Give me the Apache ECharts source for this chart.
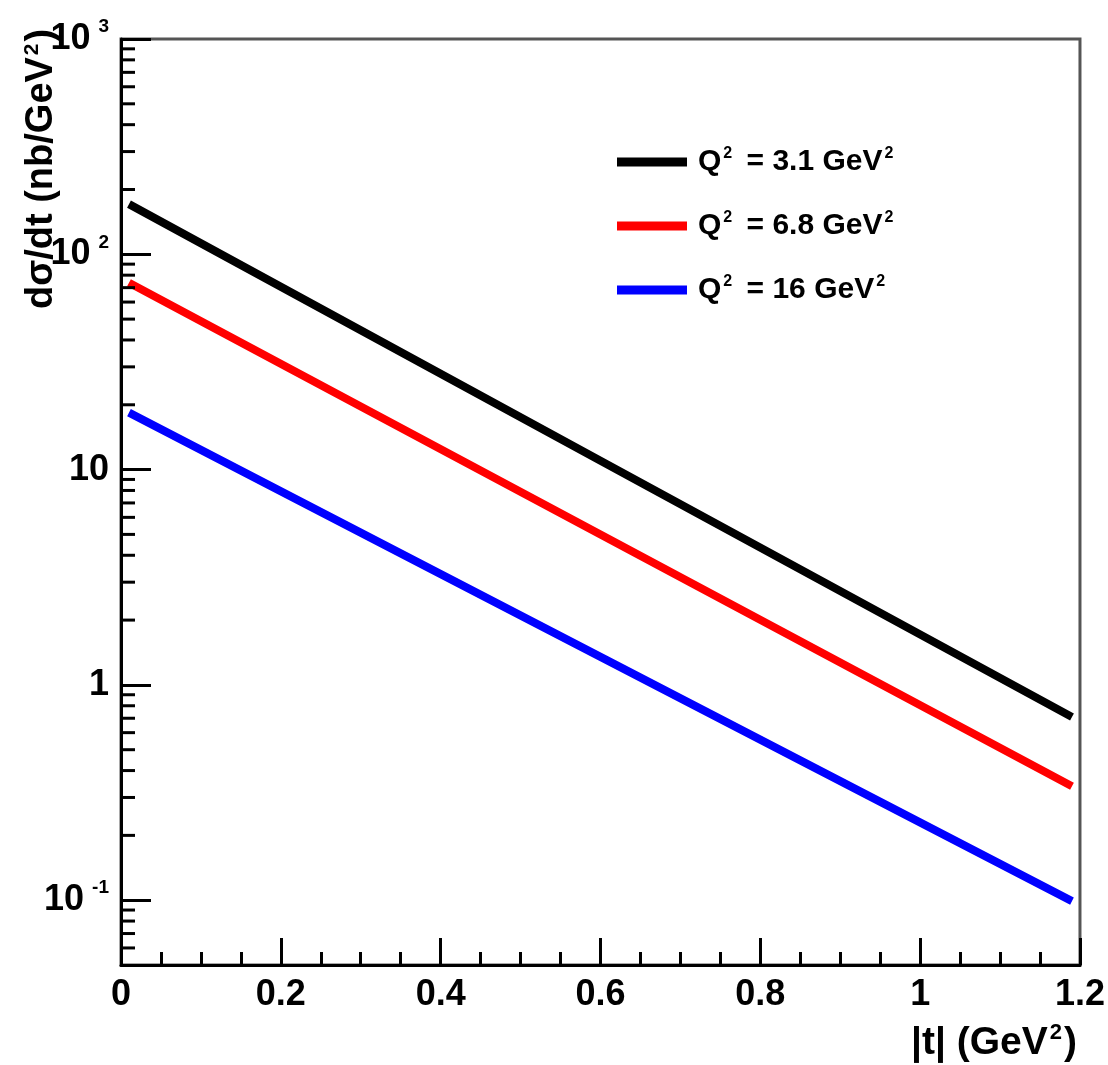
<!DOCTYPE html>
<html>
<head>
<meta charset="utf-8">
<script src="https://cdn.jsdelivr.net/npm/echarts@6/dist/echarts.min.js"></script>
<style>html,body{margin:0;padding:0;background:#fff;}#c{width:1108px;height:1065px;}</style>
</head>
<body>
<div id="c"></div>
<script>
// ---- data ----
var q2Values = ['3.1', '6.8', '16'];
var lineColors = ['#000000', '#ff0000', '#0000ff'];
var tValues = [0.01, 0.6, 1.19];
var sigmaQ31 = [171, 11.0, 0.71];
var sigmaQ68 = [73.8, 5.0, 0.338];
var sigmaQ16 = [18.4, 1.35, 0.099];
var xTicks = [0, 0.2, 0.4, 0.6, 0.8, 1, 1.2];
var yMajorTicks = [0.1, 1, 10, 100, 1000];
var yMinorTicks = [0.06, 0.07, 0.08, 0.09,
  0.2, 0.3, 0.4, 0.5, 0.6, 0.7, 0.8, 0.9,
  2, 3, 4, 5, 6, 7, 8, 9,
  20, 30, 40, 50, 60, 70, 80, 90,
  200, 300, 400, 500, 600, 700, 800, 900];

var FONT = '"Liberation Sans", Arial, Helvetica, sans-serif';
var allSeriesValues = [sigmaQ31, sigmaQ68, sigmaQ16];
function legendName(q) { return 'Q^2 = ' + q + ' GeV^2'; }

var series = allSeriesValues.map(function (vals, i) {
  return {
    type: 'line',
    name: legendName(q2Values[i]),
    data: tValues.map(function (t, j) { return [t, vals[j]]; }),
    showSymbol: false,
    symbol: 'none',
    lineStyle: { color: lineColors[i], width: 8, cap: 'butt' },
    itemStyle: { color: lineColors[i] },
    z: 3
  };
});

series.push({
  type: 'custom',
  name: 'minorTicks',
  silent: true,
  clip: false,
  z: 5,
  data: yMinorTicks.map(function (v) { return [0, v]; }),
  renderItem: function (params, api) {
    var p = api.coord([api.value(0), api.value(1)]);
    return {
      type: 'line',
      shape: { x1: p[0], y1: p[1], x2: p[0] + 14, y2: p[1] },
      style: { stroke: '#000', lineWidth: 3 }
    };
  }
});

var supRich = {
  b: { fontFamily: FONT, fontWeight: 'bold', fontSize: 36, color: '#000' },
  s: { fontFamily: FONT, fontWeight: 'bold', fontSize: 19, color: '#000', padding: [0, 0, 24, 8] }
};

var chart = echarts.init(document.getElementById('c'), null, { renderer: 'canvas' });
chart.setOption({
  backgroundColor: '#ffffff',
  animation: false,
  grid: {
    left: 121, right: 26, top: 39, bottom: 100,
    show: true, borderColor: '#555', borderWidth: 3, backgroundColor: 'transparent'
  },
  legend: {
    left: 612, top: 141,
    orient: 'vertical',
    icon: 'rect',
    itemWidth: 70, itemHeight: 9,
    itemGap: 32,
    data: q2Values.map(legendName),
    formatter: function (name) {
      return '{t|' + name.replace(/\^2/g, '}{u|2}{t|') + '}';
    },
    textStyle: {
      padding: [0, 0, 0, 6],
      rich: {
        t: { fontFamily: FONT, fontWeight: 'bold', fontSize: 30, color: '#000', lineHeight: 33 },
        u: { fontFamily: FONT, fontWeight: 'bold', fontSize: 16, color: '#000', padding: [0, 6, 16, 2], lineHeight: 33 }
      }
    }
  },
  xAxis: {
    type: 'value',
    min: 0, max: 1.2, interval: 0.2,
    axisLine: { show: true, lineStyle: { color: '#000', width: 3 } },
    axisTick: { show: true, inside: true, length: 27, lineStyle: { color: '#000', width: 3 } },
    minorTick: { show: true, splitNumber: 4, length: 13, lineStyle: { color: '#000', width: 3 } },
    splitLine: { show: false },
    axisLabel: {
      margin: 12,
      fontFamily: FONT, fontWeight: 'bold', fontSize: 36, color: '#000',
      formatter: function (v) {
        var r = Math.round(v * 10) / 10;
        return xTicks.indexOf(r) >= 0 ? String(r) : '';
      }
    }
  },
  yAxis: {
    type: 'log',
    logBase: 10,
    min: 0.05, max: 1000,
    axisLine: { show: true, lineStyle: { color: '#000', width: 3 } },
    axisTick: { show: true, inside: true, length: 30, lineStyle: { color: '#000', width: 3 } },
    splitLine: { show: false },
    minorTick: { show: false },
    axisLabel: {
      showMinLabel: false,
      margin: 12,
      rich: supRich,
      formatter: function (v) {
        var k = Math.round(Math.log10(v));
        var match = yMajorTicks.some(function (m) { return Math.abs(m - v) / m < 1e-6; });
        if (!match) return '';
        if (k === 0) return '{b|1}';
        if (k === 1) return '{b|10}';
        return '{b|10}{s|' + k + '}';
      }
    }
  },
  graphic: [
    {
      type: 'text',
      x: 42, y: 309,
      rotation: Math.PI / 2,
      style: {
        text: '{t|dσ/dt (nb/GeV}{u|2}{t|)}',
        align: 'left', verticalAlign: 'middle',
        rich: {
          t: { fontFamily: FONT, fontWeight: 'bold', fontSize: 38, fill: '#000' },
          u: { fontFamily: FONT, fontWeight: 'bold', fontSize: 21, fill: '#000', padding: [0, 2, 20, 2] }
        }
      },
      z: 10
    },
    {
      type: 'text',
      x: 1077, y: 1043,
      style: {
        text: '{t||t| (GeV}{u|2}{t|)}',
        align: 'right', verticalAlign: 'middle',
        rich: {
          t: { fontFamily: FONT, fontWeight: 'bold', fontSize: 39, fill: '#000' },
          u: { fontFamily: FONT, fontWeight: 'bold', fontSize: 22, fill: '#000', padding: [0, 2, 20, 2] }
        }
      },
      z: 10
    }
  ],
  series: series
});
</script>
</body>
</html>
